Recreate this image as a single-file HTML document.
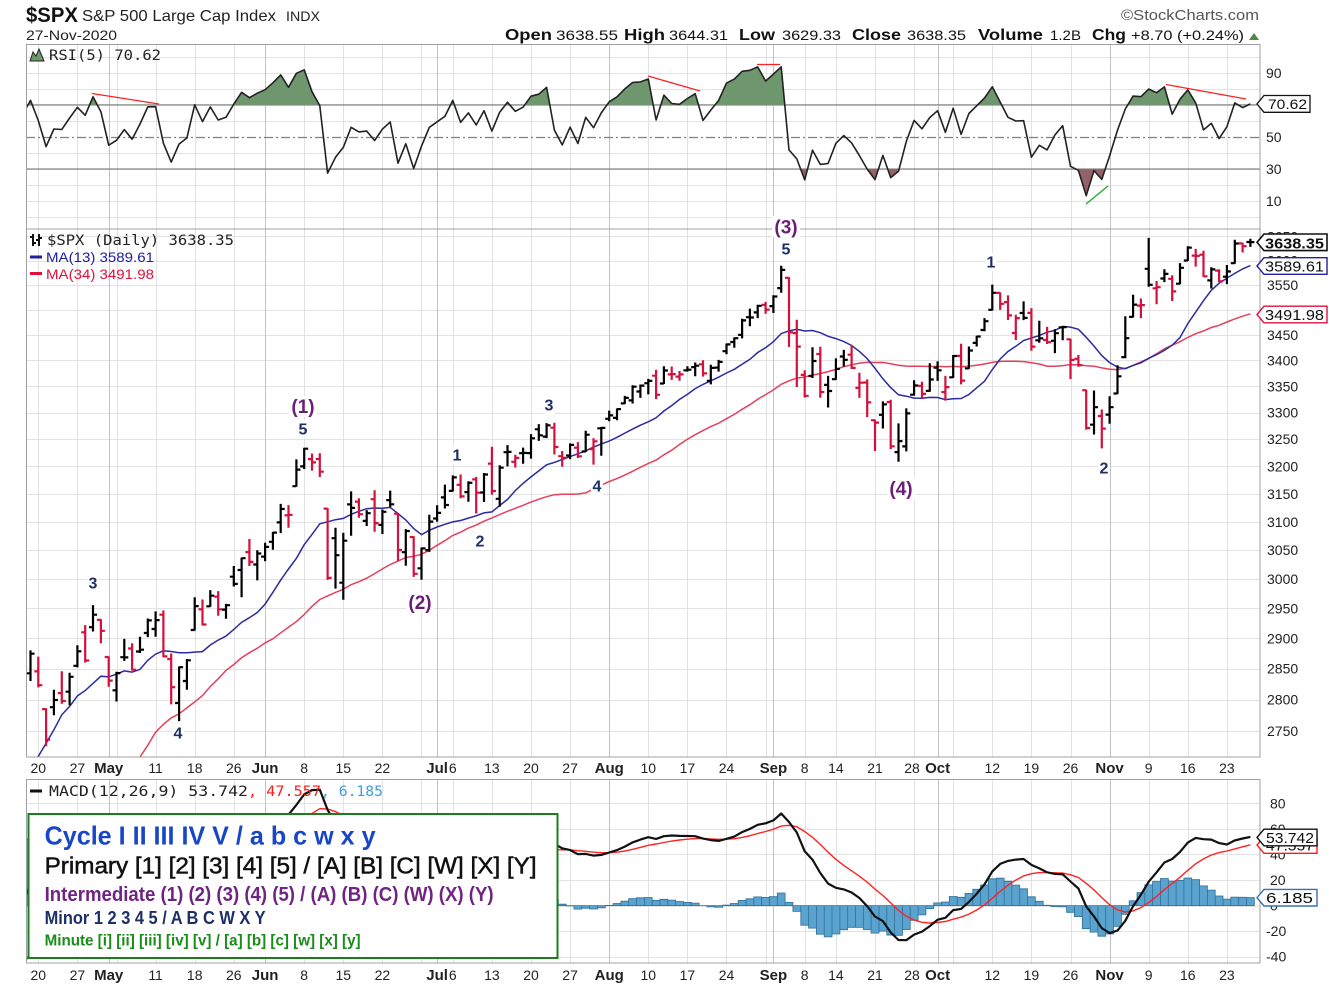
<!DOCTYPE html>
<html><head><meta charset="utf-8">
<style>
html,body{margin:0;padding:0;background:#fff;}
svg{display:block;}
text{font-family:"Liberation Sans",Arial,sans-serif;}
.ax{font-size:14px;fill:#222;text-anchor:middle;}
.mo{font-size:15px;font-weight:bold;fill:#222;text-anchor:middle;}
.ry{font-size:14px;fill:#222;}
.mono{font-family:"DejaVu Sans Mono","Liberation Mono",monospace;}
.wn{font-weight:bold;font-size:16px;fill:#1c2f66;text-anchor:middle;}
.wp{font-weight:bold;font-size:19px;fill:#6b1e78;text-anchor:middle;}
</style></head><body>
<svg id="c" width="1329" height="990" viewBox="0 0 1329 990" xmlns="http://www.w3.org/2000/svg">
<defs>
<clipPath id="cr"><rect x="26" y="44" width="1234" height="185"/></clipPath>
<clipPath id="cm"><rect x="26" y="229" width="1234" height="528"/></clipPath>
<clipPath id="cd"><rect x="26" y="779" width="1234" height="184"/></clipPath>
<clipPath id="cg"><rect x="26" y="44" width="1234" height="60.9"/></clipPath>
<clipPath id="cb"><rect x="26" y="169.1" width="1234" height="60"/></clipPath>
</defs>
<rect width="1329" height="990" fill="#fff"/>
<g id="grid"></g>
<g id="series"></g>
<!-- panel borders -->
<g fill="none" stroke="#a0a0a0" stroke-width="1">
<rect x="26.5" y="44.5" width="1233.5" height="184.5"/>
<rect x="26.5" y="229" width="1233.5" height="528"/>
<rect x="26.5" y="779.5" width="1233.5" height="183.5"/>
</g>

<!-- Header -->
<text x="26" y="22" font-size="21" font-weight="bold" textLength="52" lengthAdjust="spacingAndGlyphs" fill="#111">$SPX</text>
<text x="82" y="21" font-size="16" textLength="194" lengthAdjust="spacingAndGlyphs" fill="#222">S&amp;P 500 Large Cap Index</text>
<text x="286" y="21" font-size="14" textLength="34" lengthAdjust="spacingAndGlyphs" fill="#222">INDX</text>
<text x="26" y="40" font-size="14" textLength="91" lengthAdjust="spacingAndGlyphs" fill="#222">27-Nov-2020</text>
<text x="1121" y="20" font-size="15" textLength="138" lengthAdjust="spacingAndGlyphs" fill="#555">©StockCharts.com</text>
<g fill="#111">
<text x="505" y="40" font-size="16" font-weight="bold" textLength="47" lengthAdjust="spacingAndGlyphs">Open</text>
<text x="556" y="40" font-size="14" textLength="62" lengthAdjust="spacingAndGlyphs">3638.55</text>
<text x="624" y="40" font-size="16" font-weight="bold" textLength="41" lengthAdjust="spacingAndGlyphs">High</text>
<text x="669" y="40" font-size="14" textLength="59" lengthAdjust="spacingAndGlyphs">3644.31</text>
<text x="739" y="40" font-size="16" font-weight="bold" textLength="36" lengthAdjust="spacingAndGlyphs">Low</text>
<text x="782" y="40" font-size="14" textLength="59" lengthAdjust="spacingAndGlyphs">3629.33</text>
<text x="852" y="40" font-size="16" font-weight="bold" textLength="49" lengthAdjust="spacingAndGlyphs">Close</text>
<text x="907" y="40" font-size="14" textLength="59" lengthAdjust="spacingAndGlyphs">3638.35</text>
<text x="978" y="40" font-size="16" font-weight="bold" textLength="65" lengthAdjust="spacingAndGlyphs">Volume</text>
<text x="1050" y="40" font-size="14" textLength="31" lengthAdjust="spacingAndGlyphs">1.2B</text>
<text x="1092" y="40" font-size="16" font-weight="bold" textLength="34" lengthAdjust="spacingAndGlyphs">Chg</text>
<text x="1131" y="40" font-size="14" textLength="113" lengthAdjust="spacingAndGlyphs">+8.70 (+0.24%)</text>
</g>
<polygon points="1249,40 1259,40 1254,33" fill="#4a8a4a"/>

<!-- RSI panel labels -->
<polygon points="30,61 33,52 36,56 39,49 44,61" fill="#6e976e" stroke="#222" stroke-width="1"/>
<text class="mono" x="49" y="60" font-size="14" textLength="112" lengthAdjust="spacingAndGlyphs" fill="#222">RSI(5) 70.62</text>
<g class="ry">
<text x="1266" y="78">90</text>
<text x="1266" y="142">50</text>
<text x="1266" y="174">30</text>
<text x="1266" y="206">10</text>
</g>
<path d="M1257,103.9 L1264,95.5 H1310 V112.3 H1264 Z" fill="#fff" stroke="#111" stroke-width="1.3"/>
<text x="1268" y="109" font-size="14" textLength="39" lengthAdjust="spacingAndGlyphs" fill="#111">70.62</text>
<!-- RSI divergence lines -->
<g stroke-width="1.3" fill="none">
<line x1="92" y1="93.5" x2="159" y2="104" stroke="#ff2020"/>
<line x1="648" y1="76" x2="700" y2="91" stroke="#ff2020"/>
<line x1="757" y1="64.5" x2="780" y2="64.5" stroke="#ff2020"/>
<line x1="1166" y1="84.5" x2="1246" y2="99" stroke="#ff2020"/>
<line x1="1086" y1="204" x2="1108" y2="186" stroke="#22aa22"/>
</g>

<!-- main price labels -->
<g stroke="#111" stroke-width="2" fill="none">
<path d="M33,234V246M30,237H33M33,243H36M39,234V246M36,240H39M39,238H42"/>
</g>
<text class="mono" x="47" y="245" font-size="14" textLength="187" lengthAdjust="spacingAndGlyphs" fill="#222">$SPX (Daily) 3638.35</text>
<rect x="30" y="255.5" width="12" height="3" fill="#2020a0"/>
<text x="46" y="262" font-size="14" textLength="108" lengthAdjust="spacingAndGlyphs" fill="#2020a0">MA(13) 3589.61</text>
<rect x="30" y="272" width="12" height="3" fill="#e0103a"/>
<text x="46" y="279" font-size="14" textLength="108" lengthAdjust="spacingAndGlyphs" fill="#e0103a">MA(34) 3491.98</text>

<g class="ry">
<text x="1267" y="241.5">3650</text>
<text x="1267" y="265.6">3600</text>
<text x="1267" y="290">3550</text>
<text x="1267" y="314.8">3500</text>
<text x="1267" y="340">3450</text>
<text x="1267" y="365.4">3400</text>
<text x="1267" y="391.3">3350</text>
<text x="1267" y="417.6">3300</text>
<text x="1267" y="444.2">3250</text>
<text x="1267" y="471.3">3200</text>
<text x="1267" y="498.8">3150</text>
<text x="1267" y="526.8">3100</text>
<text x="1267" y="555.2">3050</text>
<text x="1267" y="584.1">3000</text>
<text x="1267" y="613.4">2950</text>
<text x="1267" y="643.3">2900</text>
<text x="1267" y="673.7">2850</text>
<text x="1267" y="704.6">2800</text>
<text x="1267" y="736.1">2750</text>
</g>
<path d="M1257,242.3 L1264,234 H1327 V250.6 H1264 Z" fill="#fff" stroke="#111" stroke-width="1.6"/>
<text x="1265" y="248.5" font-size="15" font-weight="bold" textLength="59" lengthAdjust="spacingAndGlyphs" fill="#111">3638.35</text>
<path d="M1257,266 L1264,257.7 H1327 V274.3 H1264 Z" fill="#fff" stroke="#2020a0" stroke-width="1.4"/>
<text x="1265" y="271.5" font-size="15" textLength="59" lengthAdjust="spacingAndGlyphs" fill="#111">3589.61</text>
<path d="M1257,314.5 L1264,306.2 H1327 V322.8 H1264 Z" fill="#fff" stroke="#e0103a" stroke-width="1.4"/>
<text x="1265" y="320" font-size="15" textLength="59" lengthAdjust="spacingAndGlyphs" fill="#111">3491.98</text>

<!-- wave labels -->
<g fill="#fff">
<rect x="87" y="574" width="12" height="18"/><rect x="172" y="724" width="12" height="18"/>
<rect x="297" y="420" width="12" height="18"/><rect x="451" y="446" width="12" height="18"/>
<rect x="474" y="532" width="12" height="18"/><rect x="543" y="396" width="12" height="18"/>
<rect x="591" y="477" width="12" height="18"/><rect x="780" y="240" width="12" height="18"/>
<rect x="985" y="253" width="12" height="18"/><rect x="1098" y="459" width="12" height="18"/>
<rect x="289" y="396" width="28" height="21"/><rect x="406" y="592" width="28" height="21"/>
<rect x="772" y="216" width="28" height="21"/><rect x="887" y="478" width="28" height="21"/>
</g>
<text class="wn" x="93" y="588.5">3</text>
<text class="wn" x="178" y="738.5">4</text>
<text class="wn" x="303" y="434.5">5</text>
<text class="wn" x="457" y="460.5">1</text>
<text class="wn" x="480" y="546.5">2</text>
<text class="wn" x="549" y="410.5">3</text>
<text class="wn" x="597" y="491.5">4</text>
<text class="wn" x="786" y="254.5">5</text>
<text class="wn" x="991" y="267.5">1</text>
<text class="wn" x="1104" y="473.5">2</text>
<text class="wp" x="303" y="413">(1)</text>
<text class="wp" x="420" y="609">(2)</text>
<text class="wp" x="786" y="233.5">(3)</text>
<text class="wp" x="901" y="495">(4)</text>

<!-- x axis labels (top) -->
<g id="xl1">
<text class="ax" x="38.3" y="773">20</text>
<text class="ax" x="77.4" y="773">27</text>
<text class="mo" x="108.7" y="773">May</text>
<text class="ax" x="155.6" y="773">11</text>
<text class="ax" x="194.7" y="773">18</text>
<text class="ax" x="233.8" y="773">26</text>
<text class="mo" x="265.1" y="773">Jun</text>
<text class="ax" x="304.2" y="773">8</text>
<text class="ax" x="343.3" y="773">15</text>
<text class="ax" x="382.4" y="773">22</text>
<text class="mo" x="437.1" y="773">Jul</text>
<text class="ax" x="452.8" y="773">6</text>
<text class="ax" x="491.9" y="773">13</text>
<text class="ax" x="531" y="773">20</text>
<text class="ax" x="570.1" y="773">27</text>
<text class="mo" x="609.2" y="773">Aug</text>
<text class="ax" x="648.3" y="773">10</text>
<text class="ax" x="687.4" y="773">17</text>
<text class="ax" x="726.5" y="773">24</text>
<text class="mo" x="773.4" y="773">Sep</text>
<text class="ax" x="804.7" y="773">8</text>
<text class="ax" x="835.9" y="773">14</text>
<text class="ax" x="875" y="773">21</text>
<text class="ax" x="912" y="773">28</text>
<text class="mo" x="937.6" y="773">Oct</text>
<text class="ax" x="992.3" y="773">12</text>
<text class="ax" x="1031.4" y="773">19</text>
<text class="ax" x="1070.5" y="773">26</text>
<text class="mo" x="1109.6" y="773">Nov</text>
<text class="ax" x="1148.7" y="773">9</text>
<text class="ax" x="1187.8" y="773">16</text>
<text class="ax" x="1226.9" y="773">23</text>
</g>
<g transform="translate(0,207)">
<text class="ax" x="38.3" y="773">20</text>
<text class="ax" x="77.4" y="773">27</text>
<text class="mo" x="108.7" y="773">May</text>
<text class="ax" x="155.6" y="773">11</text>
<text class="ax" x="194.7" y="773">18</text>
<text class="ax" x="233.8" y="773">26</text>
<text class="mo" x="265.1" y="773">Jun</text>
<text class="ax" x="304.2" y="773">8</text>
<text class="ax" x="343.3" y="773">15</text>
<text class="ax" x="382.4" y="773">22</text>
<text class="mo" x="437.1" y="773">Jul</text>
<text class="ax" x="452.8" y="773">6</text>
<text class="ax" x="491.9" y="773">13</text>
<text class="ax" x="531" y="773">20</text>
<text class="ax" x="570.1" y="773">27</text>
<text class="mo" x="609.2" y="773">Aug</text>
<text class="ax" x="648.3" y="773">10</text>
<text class="ax" x="687.4" y="773">17</text>
<text class="ax" x="726.5" y="773">24</text>
<text class="mo" x="773.4" y="773">Sep</text>
<text class="ax" x="804.7" y="773">8</text>
<text class="ax" x="835.9" y="773">14</text>
<text class="ax" x="875" y="773">21</text>
<text class="ax" x="912" y="773">28</text>
<text class="mo" x="937.6" y="773">Oct</text>
<text class="ax" x="992.3" y="773">12</text>
<text class="ax" x="1031.4" y="773">19</text>
<text class="ax" x="1070.5" y="773">26</text>
<text class="mo" x="1109.6" y="773">Nov</text>
<text class="ax" x="1148.7" y="773">9</text>
<text class="ax" x="1187.8" y="773">16</text>
<text class="ax" x="1226.9" y="773">23</text>
</g>

<!-- MACD labels -->
<rect x="30" y="789.5" width="12" height="3" fill="#111"/>
<text class="mono" x="49" y="796" font-size="14" textLength="199" lengthAdjust="spacingAndGlyphs" fill="#222">MACD(12,26,9) 53.742</text>
<text class="mono" x="248" y="796" font-size="14" textLength="73" lengthAdjust="spacingAndGlyphs" fill="#ff1a1a">, 47.557</text>
<text class="mono" x="321" y="796" font-size="14" textLength="62" lengthAdjust="spacingAndGlyphs" fill="#3aa0dd">, 6.185</text>
<g class="ry">
<text x="1270" y="808.3">80</text>
<text x="1270" y="833.9">60</text>
<text x="1270" y="859.5">40</text>
<text x="1270" y="885">20</text>
<text x="1270" y="910.6">0</text>
<text x="1266" y="936.2">-20</text>
<text x="1266" y="961.7">-40</text>
</g>
<path d="M1257,845 L1264,836.7 H1317 V853.3 H1264 Z" fill="#fff" stroke="#ff1a1a" stroke-width="1.4"/>
<text x="1266" y="850.5" font-size="15" textLength="48" lengthAdjust="spacingAndGlyphs" fill="#111">47.557</text>
<path d="M1257,837.5 L1264,829.2 H1317 V845.8 H1264 Z" fill="#fff" stroke="#111" stroke-width="1.4"/>
<text x="1266" y="843" font-size="15" textLength="48" lengthAdjust="spacingAndGlyphs" fill="#111">53.742</text>
<path d="M1257,897.7 L1264,889.4 H1317 V906 H1264 Z" fill="#fff" stroke="#3a6fb0" stroke-width="1.4"/>
<text x="1266" y="903.2" font-size="15" textLength="47" lengthAdjust="spacingAndGlyphs" fill="#111">6.185</text>

<!-- legend -->
<rect x="28.5" y="814" width="529" height="144" fill="#fff" stroke="#1e7b1e" stroke-width="2"/>
<text x="44.6" y="844.5" font-size="26" font-weight="bold" fill="#1846c8" textLength="331" lengthAdjust="spacingAndGlyphs">Cycle I II III IV V / a b c w x y</text>
<text x="44.6" y="873.5" font-size="23" fill="#111" stroke="#111" stroke-width="0.5" textLength="492" lengthAdjust="spacingAndGlyphs">Primary [1] [2] [3] [4] [5] / [A] [B] [C] [W] [X] [Y]</text>
<text x="44.6" y="901" font-size="20" font-weight="bold" fill="#6f2382" textLength="449" lengthAdjust="spacingAndGlyphs">Intermediate (1) (2) (3) (4) (5) / (A) (B) (C) (W) (X) (Y)</text>
<text x="44.6" y="924" font-size="18" font-weight="bold" fill="#1c2f66" textLength="221" lengthAdjust="spacingAndGlyphs">Minor 1 2 3 4 5 / A B C W X Y</text>
<text x="44.6" y="945.5" font-size="16" font-weight="bold" fill="#1a8c1a" textLength="316" lengthAdjust="spacingAndGlyphs">Minute [i] [ii] [iii] [iv] [v] / [a] [b] [c] [w] [x] [y]</text>
</svg>

<script>
(function(){
const pre=[3257.85,3234.85,3246.28,3237.18,3253.05,3274.70,3265.35,3288.13,3283.15,3289.29,3316.81,3329.62,3320.79,3321.75,3325.54,3295.47,3243.63,3276.24,3273.40,3283.66,3225.52,
3248.92,3297.59,3334.69,3345.78,3327.71,3352.09,3357.75,3379.45,3373.94,3380.16,3370.29,3386.15,3373.23,3337.75,3225.89,3128.21,3116.39,2978.76,2954.22,
3090.23,3003.37,3130.12,3023.94,2972.37,2746.56,2882.23,2741.38,2480.64,2711.02,2386.13,2529.19,2398.10,2409.39,2304.92,2237.40,2447.33,2475.56,2630.07,2541.47,2626.65,2584.59,
2470.50,2526.90,2488.65,2663.68,2659.41,2749.98,2789.82,2761.63,2846.06,2783.36];
const D=[[2799.34,2806.51,2764.32,2799.55],[2842.43,2879.22,2830.88,2874.56],
[2845.62,2868.98,2820.43,2823.16],[2784.81,2785.54,2727.10,2736.56],[2787.89,2815.10,2775.95,2799.31],[2810.42,2844.90,2794.26,2797.80],[2812.64,2842.71,2791.76,2836.74],
[2854.65,2887.72,2852.89,2878.48],[2909.96,2921.15,2860.71,2863.39],[2918.46,2954.86,2912.16,2939.51],[2930.91,2930.91,2892.47,2912.43],[2869.09,2869.09,2821.61,2830.71],
[2815.01,2844.24,2797.85,2842.74],[2868.88,2898.23,2863.55,2868.44],[2883.14,2891.11,2847.65,2848.42],[2878.26,2901.92,2876.48,2881.19],[2908.83,2932.16,2902.88,2929.80],
[2915.46,2944.25,2903.44,2930.32],[2939.50,2945.82,2869.59,2870.12],[2865.86,2874.14,2793.15,2820.00],[2794.54,2852.80,2766.64,2852.50],[2829.95,2865.01,2816.78,2863.70],
[2913.86,2968.09,2913.86,2953.91],[2948.59,2964.21,2922.35,2922.94],[2953.63,2980.29,2953.63,2971.61],[2969.95,2978.50,2938.57,2948.51],[2948.05,2956.76,2933.59,2955.45],
[3004.08,3021.72,2988.17,2991.77],[3015.65,3036.25,2969.75,3036.13],[3046.61,3068.67,3023.40,3029.73],[3025.17,3049.17,2998.61,3044.31],
[3038.78,3062.18,3031.54,3055.73],[3064.78,3081.07,3051.64,3080.82],[3098.90,3130.94,3080.96,3122.87],[3111.56,3128.91,3090.41,3112.35],[3163.84,3211.72,3163.84,3193.93],
[3199.92,3233.13,3196.00,3232.39],[3213.32,3222.71,3193.11,3207.18],[3213.42,3223.27,3181.49,3190.14],[3123.53,3123.53,2999.49,3002.10],[3071.04,3088.42,2984.47,3041.31],
[2993.76,3079.76,2965.66,3066.59],[3131.00,3153.45,3076.06,3124.74],[3136.13,3141.16,3108.03,3113.49],[3101.64,3120.00,3093.51,3115.34],[3140.29,3155.53,3083.11,3097.74],
[3094.42,3120.92,3079.39,3117.86],[3138.70,3154.90,3127.12,3131.29],[3114.40,3115.01,3032.13,3050.33],[3046.60,3086.25,3024.01,3083.76],[3073.20,3073.73,3004.63,3009.05],
[3018.59,3053.89,2999.74,3053.24],[3050.20,3111.51,3047.83,3100.29],[3105.92,3128.44,3101.17,3115.86],[3143.64,3165.81,3124.52,3130.01],
[3155.29,3182.59,3155.29,3179.72],[3166.44,3184.15,3142.93,3145.32],[3153.07,3171.80,3136.53,3169.94],[3176.17,3179.78,3115.70,3152.05],[3152.47,3186.82,3136.22,3185.04],
[3205.08,3235.32,3149.43,3155.22],[3141.11,3200.95,3127.66,3197.52],[3225.98,3238.28,3200.76,3226.56],[3208.36,3220.39,3198.59,3215.57],[3224.21,3233.52,3205.65,3224.73],
[3224.29,3258.61,3215.16,3251.84],[3268.52,3277.29,3247.77,3257.30],[3254.86,3279.32,3253.10,3276.02],[3271.64,3279.99,3222.66,3235.66],[3218.58,3227.26,3200.05,3215.63],
[3219.84,3241.43,3214.25,3239.41],[3234.27,3243.72,3216.17,3218.44],[3227.22,3264.74,3227.22,3258.44],[3231.76,3250.92,3204.13,3246.22],[3270.45,3272.17,3220.26,3271.12],
[3288.26,3302.73,3284.53,3294.61],[3289.92,3306.84,3286.37,3306.51],[3317.37,3330.77,3317.37,3327.77],[3323.17,3351.03,3318.14,3349.16],[3340.05,3352.54,3328.72,3351.28],
[3356.04,3363.29,3335.44,3360.47],[3370.34,3381.01,3326.44,3333.69],[3355.46,3387.89,3355.46,3380.35],[3372.95,3387.24,3363.35,3373.43],[3368.66,3378.51,3361.64,3372.85],
[3380.86,3387.59,3379.22,3381.99],[3387.04,3395.06,3370.15,3389.78],[3392.51,3399.54,3369.66,3374.85],[3360.48,3390.80,3354.69,3385.51],[3386.01,3399.96,3379.31,3397.16],
[3418.09,3432.09,3413.13,3431.28],[3435.95,3444.21,3425.84,3443.62],[3449.97,3481.07,3444.15,3478.73],[3485.14,3501.38,3468.35,3484.55],[3494.69,3509.23,3484.32,3508.01],
[3509.73,3514.77,3493.25,3500.31],[3507.44,3528.03,3494.60,3526.65],[3543.76,3588.11,3535.23,3580.84],[3564.74,3564.85,3427.41,3455.06],[3453.60,3479.15,3349.63,3426.96],
[3371.88,3379.97,3329.27,3331.84],[3369.82,3424.77,3366.84,3398.96],[3412.56,3425.55,3329.25,3339.19],[3352.70,3368.95,3310.47,3340.97],
[3363.56,3402.93,3363.56,3383.54],[3407.73,3419.48,3389.25,3401.20],[3411.23,3428.92,3384.45,3385.49],[3346.86,3375.17,3328.82,3357.01],[3357.38,3362.27,3292.40,3319.47],
[3285.57,3285.57,3229.10,3281.06],[3295.75,3320.31,3270.95,3315.57],[3320.11,3323.35,3232.57,3236.92],[3226.14,3278.70,3209.45,3246.59],[3236.66,3306.88,3228.44,3298.46],
[3333.90,3360.74,3332.91,3351.60],[3350.92,3357.92,3327.54,3335.47],[3341.21,3393.56,3340.47,3363.00],[3385.87,3397.18,3361.39,3380.80],[3338.94,3369.10,3323.69,3348.42],
[3367.27,3409.57,3367.27,3408.60],[3408.74,3431.56,3354.54,3360.97],[3384.56,3426.26,3384.56,3419.44],[3434.28,3447.28,3428.15,3446.83],[3459.67,3482.34,3458.07,3477.14],
[3500.02,3549.85,3499.61,3534.22],[3534.01,3534.01,3500.86,3511.93],[3515.47,3527.94,3480.55,3488.67],[3453.72,3489.08,3440.89,3483.34],[3493.50,3515.76,3480.45,3483.81],
[3493.66,3502.42,3419.93,3426.92],[3439.38,3476.93,3435.65,3443.12],[3439.91,3464.86,3433.06,3435.56],[3438.50,3460.53,3415.34,3453.49],[3464.90,3466.46,3440.45,3465.39],
[3441.42,3441.42,3364.86,3400.97],[3403.15,3409.51,3388.71,3390.68],[3342.48,3342.48,3268.89,3271.03],[3277.17,3341.05,3259.82,3310.11],[3293.59,3304.93,3233.94,3269.96],
[3296.20,3330.14,3279.74,3310.24],[3336.25,3389.49,3336.25,3369.16],[3406.46,3486.25,3405.17,3443.44],[3485.74,3529.05,3485.74,3510.45],[3508.34,3521.58,3484.34,3509.44],
[3583.04,3645.99,3547.48,3550.50],[3543.26,3557.22,3511.91,3545.53],[3563.22,3581.16,3557.00,3572.66],[3562.67,3569.02,3518.58,3537.01],[3552.57,3593.66,3552.57,3585.15],
[3600.16,3628.51,3600.16,3626.91],[3610.31,3623.11,3588.68,3609.53],[3612.09,3619.09,3567.33,3567.79],[3559.41,3585.22,3543.84,3581.87],[3579.31,3581.23,3556.85,3557.54],
[3566.82,3589.81,3552.77,3577.59],[3594.52,3642.31,3594.52,3635.41],[3635.50,3635.50,3617.76,3629.65],[3638.55,3644.31,3629.33,3638.35]];
const C=pre.concat(D.map(d=>d[3]));
const base=pre.length;
const ci=i=>base+2+i;
const X=i=>38.3+7.82*i;
const YP=p=>285-Math.log(p/3550)*1747;
const YR=v=>137-(v-50)*1.603;
const YM=v=>905.6-1.278*v;
const NS='http://www.w3.org/2000/svg';
function el(t,a,p){const e=document.createElementNS(NS,t);for(const k in a)e.setAttribute(k,a[k]);p.appendChild(e);return e;}
const f=v=>v.toFixed(1);
// grid
const g=document.getElementById('grid');
const weeks=[0,5,10,15,20,25,34,39,44,49,53,58,63,68,78,83,88,93,98,102,107,112,117,122,127,132,142,147,152];
const months=[9,29,51,73,94,115,137];
const panels=[[44,229],[229,757],[779,963]];
let d1='',d2='';
weeks.forEach(i=>{const x=Math.round(X(i))+0.5;panels.forEach(p=>{d1+='M'+x+','+p[0]+'V'+p[1];});});
months.forEach(i=>{const x=Math.round(X(i))+0.5;panels.forEach(p=>{d2+='M'+x+','+p[0]+'V'+p[1];});});
for(let p=2750;p<=3650;p+=50){const y=Math.round(YP(p))+0.5;d1+='M26,'+y+'H1260';}
for(let v=0;v<=100;v+=10){if(v==30||v==50||v==70)continue;const y=Math.round(YR(v))+0.5;d1+='M26,'+y+'H1260';}
for(let v=-40;v<=80;v+=20){const y=Math.round(YM(v))+0.5;d1+='M26,'+y+'H1260';}
el('path',{d:d1,stroke:'#e2e2e2','stroke-width':1,fill:'none'},g);
el('path',{d:d2,stroke:'#c2c2c2','stroke-width':1,fill:'none'},g);
const s=document.getElementById('series');
// RSI
const rsi=new Array(C.length).fill(null);
let ag=0,al=0;
for(let t=1;t<=5;t++){const ch=C[t]-C[t-1];if(ch>0)ag+=ch;else al-=ch;}
ag/=5;al/=5;rsi[5]=100-100/(1+ag/al);
for(let t=6;t<C.length;t++){const ch=C[t]-C[t-1];const gg=ch>0?ch:0,ll=ch<0?-ch:0;ag=(ag*4+gg)/5;al=(al*4+ll)/5;rsi[t]=al==0?100:100-100/(1+ag/al);}
const rg=el('g',{'clip-path':'url(#cr)'},s);
el('path',{d:'M26,104.9H1260M26,169.1H1260',stroke:'#8a8a8a','stroke-width':1.4,fill:'none'},rg);
el('path',{d:'M26,137.5H1260',stroke:'#808080','stroke-width':1.2,'stroke-dasharray':'9,3,2,3',fill:'none'},rg);
let pts=[];
for(let i=-2;i<=155;i++){pts.push(f(X(i))+','+f(YR(rsi[ci(i)])));}
const line='M'+pts.join('L');
const x0=f(X(-2)),x1=f(X(155));
el('path',{d:line+'L'+x1+',104.9L'+x0+',104.9Z',fill:'#6e976e','clip-path':'url(#cg)'},rg);
el('path',{d:line+'L'+x1+',169.1L'+x0+',169.1Z',fill:'#926266','clip-path':'url(#cb)'},rg);
el('path',{d:line,fill:'none',stroke:'#222','stroke-width':1.6,'stroke-linejoin':'round'},rg);
// main
const mg=el('g',{'clip-path':'url(#cm)'},s);
function sma(n){const o=[];for(let i=-2;i<=155;i++){const j=ci(i);let t=0;for(let q=j-n+1;q<=j;q++)t+=C[q];o.push(f(X(i))+','+f(YP(t/n)));}return 'M'+o.join('L');}
el('path',{d:sma(34),fill:'none',stroke:'#e4405c','stroke-width':1.5},mg);
el('path',{d:sma(13),fill:'none',stroke:'#2b2ba0','stroke-width':1.5},mg);
let dk='',dr='';
for(let k=0;k<D.length;k++){const i=k-2;const x=X(i);const [o,h,l,c]=D[k];const prev=C[base+k-1];
 const seg='M'+f(x)+','+f(YP(h)-0.5)+'V'+f(YP(l)+0.5)+'M'+f(x-4)+','+f(YP(o))+'H'+f(x)+'M'+f(x)+','+f(YP(c))+'H'+f(x+4);
 if(c>=prev)dk+=seg;else dr+=seg;}
el('path',{d:dk,fill:'none',stroke:'#000','stroke-width':2.2},mg);
el('path',{d:dr,fill:'none',stroke:'#d4103c','stroke-width':2.2},mg);
// MACD
function ema(arr,n,st){const o=new Array(arr.length).fill(null);const k=2/(n+1);let t=0;for(let q=st;q<st+n;q++)t+=arr[q];o[st+n-1]=t/n;for(let q=st+n;q<arr.length;q++)o[q]=arr[q]*k+o[q-1]*(1-k);return o;}
const e12=ema(C,12,0),e26=ema(C,26,0);
const macd=C.map((_,t)=>e26[t]==null?null:e12[t]-e26[t]);
const sig=ema(macd,9,25);
const dg=el('g',{'clip-path':'url(#cd)'},s);
let hd='';
const y0=YM(0);
for(let i=-2;i<=155;i++){const j=ci(i);const h=macd[j]-sig[j];const y=YM(h);const x=X(i)-3.91;
 hd+='M'+f(x)+','+f(y0)+'V'+f(y)+'H'+f(x+7.82)+'V'+f(y0)+'Z';}
el('path',{d:hd,fill:'#5ba3cf',stroke:'#2f6f98','stroke-width':0.8},dg);
let ms=[],ss=[];
for(let i=-2;i<=155;i++){const j=ci(i);ms.push(f(X(i))+','+f(YM(macd[j])));ss.push(f(X(i))+','+f(YM(sig[j])));}
el('path',{d:'M'+ss.join('L'),fill:'none',stroke:'#ff2222','stroke-width':1.4},dg);
el('path',{d:'M'+ms.join('L'),fill:'none',stroke:'#111','stroke-width':2.2,'stroke-linejoin':'round'},dg);
})();
</script>
</body></html>
